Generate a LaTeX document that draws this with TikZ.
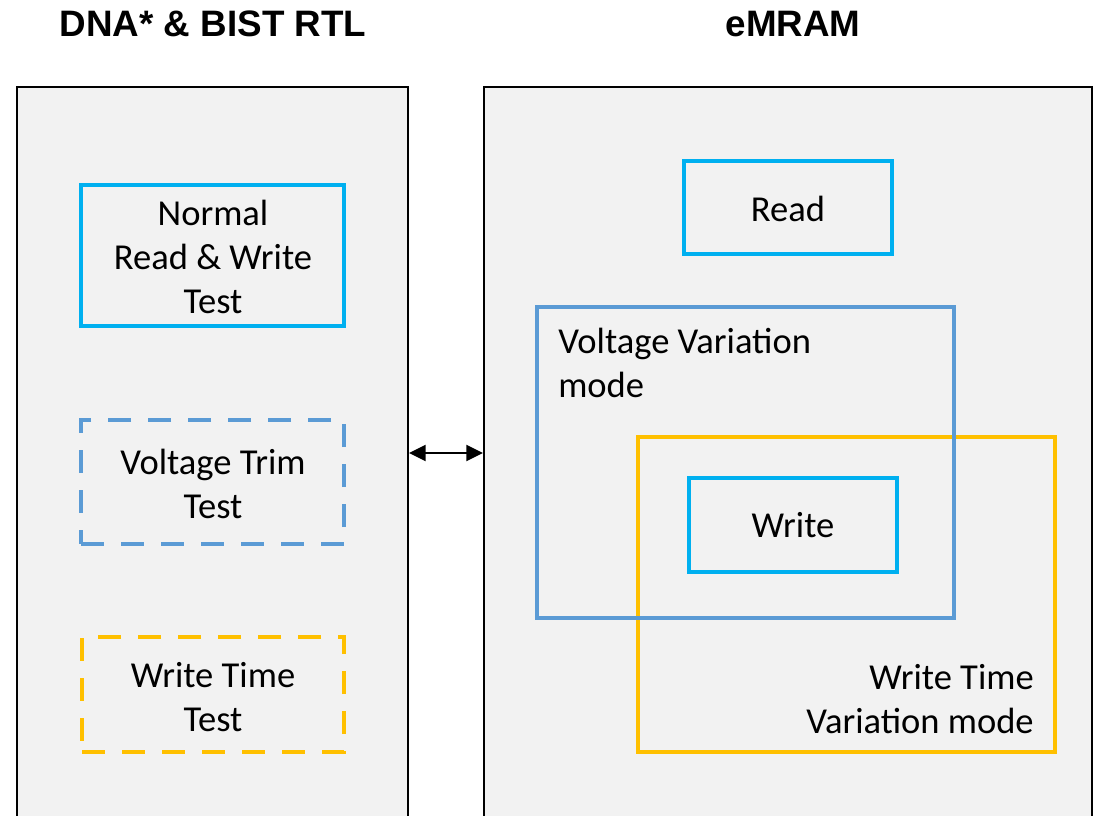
\documentclass[tikz,border=0pt]{standalone}
\usepackage{fontspec}
\setmainfont{Carlito}
\newfontfamily\headfont{Liberation Sans}
\usetikzlibrary{fit,arrows.meta}

\definecolor{panelgray}{HTML}{F2F2F2}
\definecolor{cyanline}{HTML}{00B0F0}
\definecolor{blueline}{HTML}{5B9BD5}
\definecolor{goldline}{HTML}{FFC000}

\begin{document}
\begin{tikzpicture}[
  x=0.75pt, y=-0.75pt,
  panel/.style={draw=black, fill=panelgray, line width=1.6pt, inner sep=0pt},
  modebox/.style={draw=#1, line width=3.5pt, inner sep=0pt},
  dashbox/.style={modebox=#1, dash pattern=on 17pt off 13pt},
  label/.style={inner sep=0pt, font=\fontsize{27.4}{33}\selectfont},
  heading/.style={inner sep=0pt, font=\headfont\bfseries\fontsize{27.6}{33}\selectfont},
  link/.style={line width=1.6pt, {Triangle[length=12.5pt,width=12pt]}-{Triangle[length=12.5pt,width=12pt]}}
]
\clip (0,0) rectangle (1094,816);

% headings
\node[heading] (hleft) at (213,24) {DNA* \& BIST RTL};
\node[heading] (hright) at (793,24) {eMRAM};

% the two panels, running past the lower edge
\node[panel, fit={(17,87) (408,840)}] (lp) {};
\node[panel, fit={(484,87) (1092,840)}] (rp) {};

% test blocks on the left
\node[modebox=cyanline, fit={(81,185) (344,326)}] (normal) {};
\node[dashbox=blueline, fit={(81,420) (344,544)}] (vtrim) {};
\node[dashbox=goldline, fit={(82,637) (344,752)}] (wtime) {};
\node[label, align=center] (normaltext) at (213,257) {Normal\\Read \& Write\\Test};
\node[label, align=center] (vtrimtext) at (213,484) {Voltage Trim\\Test};
\node[label, align=center] (wtimetext) at (213,697) {Write Time\\Test};

% operation modes on the right
\node[modebox=cyanline, fit={(684,161) (892,254)}] (read) {};
\node[modebox=goldline, fit={(638,437) (1055,752)}] (wtvar) {};
\node[modebox=blueline, fit={(537,307) (954,618)}] (vvar) {};
\node[modebox=cyanline, fit={(689,478) (897,572)}] (write) {};
\node[label] (readtext) at (788,209) {Read};
\node[label] (writetext) at (793,525) {Write};

\node[label, anchor=north west, align=left] (vvartext) at (558,328) {Voltage Variation\\mode};
\node[label, anchor=south east, align=right] (wtvartext) at (1034,734) {Write Time\\Variation mode};

% link between the RTL and the memory
\coordinate (linky) at (0,453);
\draw[link] (lp.east |- linky) -- (rp.west |- linky);
\end{tikzpicture}
\end{document}
